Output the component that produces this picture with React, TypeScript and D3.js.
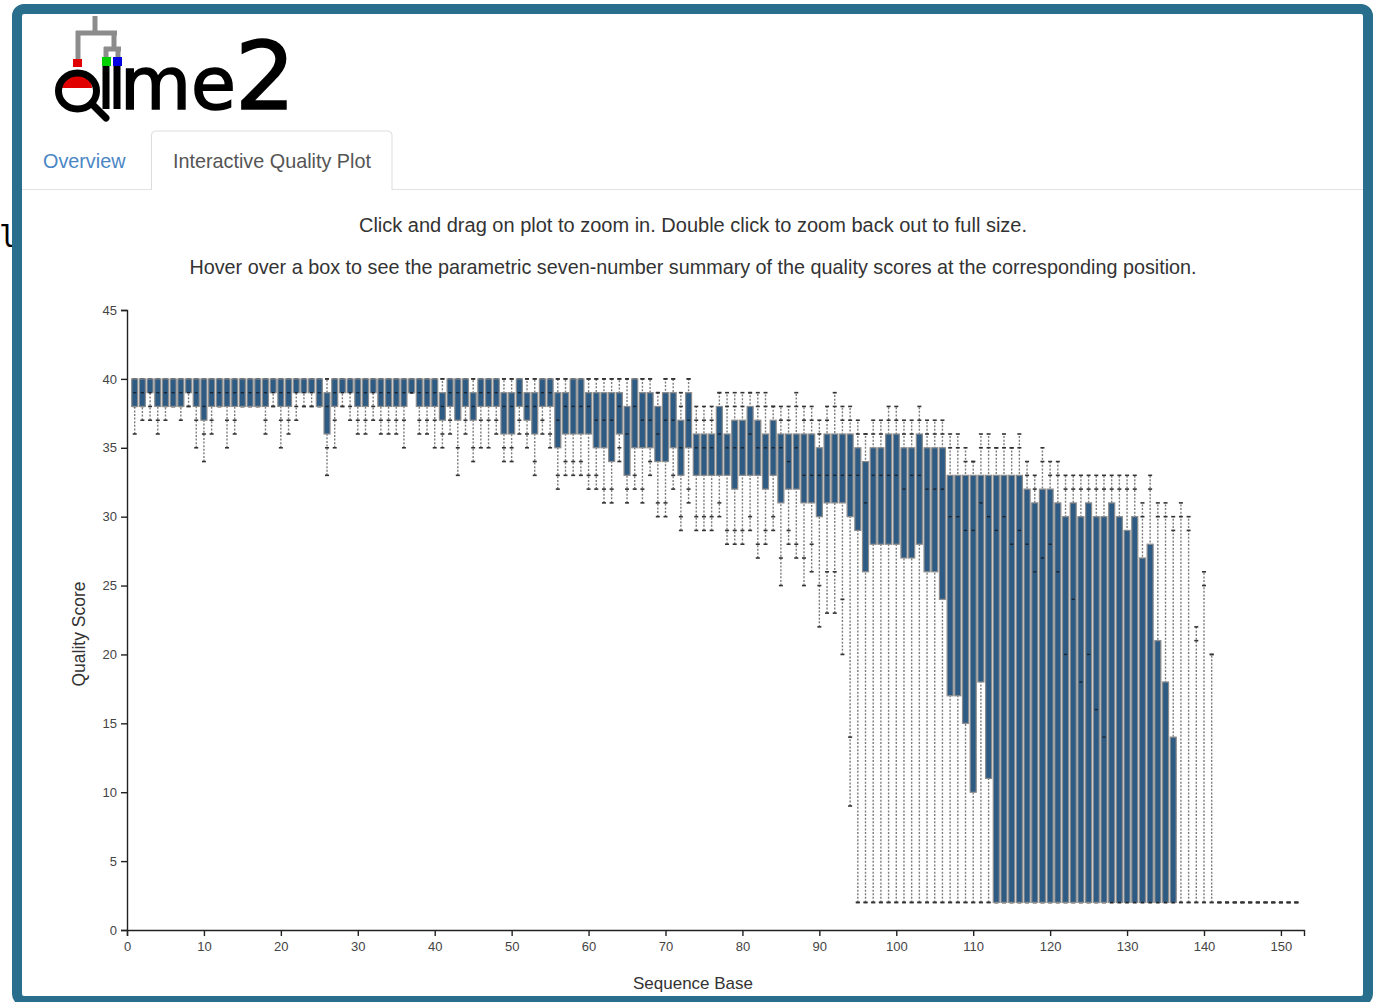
import { useEffect, useRef } from 'react';
import * as d3 from 'd3';

// seven-number summary per sequence position (positions 1..152)
const p98 = [
  40, 40, 40, 40, 40, 40, 40, 40, 40, 40,
  40, 40, 40, 40, 40, 40, 40, 40, 40, 40,
  40, 40, 40, 40, 40, 40, 40, 40, 40, 40,
  40, 40, 40, 40, 40, 40, 40, 40, 40, 40,
  40, 40, 40, 40, 40, 40, 40, 40, 40, 40,
  40, 40, 40, 40, 40, 40, 40, 40, 40, 40,
  40, 40, 40, 40, 40, 40, 40, 40, 39, 40,
  40, 39, 40, 38, 38, 38, 39, 39, 39, 39,
  39, 39, 39, 38, 38, 38, 39, 38, 38, 37,
  38, 39, 38, 38, 37, 36, 37, 37, 38, 38,
  37, 37, 38, 37, 37, 37, 36, 36, 35, 34,
  36, 36, 35, 36, 35, 36, 34, 33, 35, 34,
  34, 33, 33, 33, 33, 33, 33, 33, 33, 33,
  33, 31, 33, 31, 31, 30, 31, 30, 22, 26,
  20, 2, 2, 2, 2, 2, 2, 2, 2, 2,
  2, 2,
];
const p91 = [
  40, 40, 40, 40, 40, 40, 40, 40, 40, 40,
  40, 40, 40, 40, 40, 40, 40, 40, 40, 40,
  40, 40, 40, 40, 40, 40, 40, 40, 40, 40,
  40, 40, 40, 40, 40, 40, 40, 40, 40, 40,
  40, 40, 40, 40, 40, 40, 40, 40, 40, 40,
  40, 40, 40, 40, 40, 40, 40, 40, 40, 40,
  40, 40, 40, 40, 40, 40, 40, 40, 39, 40,
  40, 38, 40, 37, 37, 37, 39, 38, 38, 38,
  39, 38, 38, 38, 37, 37, 38, 37, 37, 36,
  37, 38, 37, 37, 36, 36, 36, 36, 37, 37,
  36, 36, 37, 36, 36, 36, 35, 35, 34, 34,
  35, 35, 35, 35, 35, 35, 33, 32, 34, 33,
  33, 32, 32, 32, 32, 32, 32, 32, 32, 32,
  32, 30, 32, 30, 30, 29, 30, 29, 21, 25,
  20, 2, 2, 2, 2, 2, 2, 2, 2, 2,
  2, 2,
];
const p75 = [
  40, 40, 40, 40, 40, 40, 40, 40, 40, 40,
  40, 40, 40, 40, 40, 40, 40, 40, 40, 40,
  40, 40, 40, 40, 40, 39, 40, 40, 40, 40,
  40, 40, 40, 40, 40, 40, 40, 40, 40, 40,
  39, 40, 40, 40, 39, 40, 40, 40, 39, 39,
  40, 39, 39, 40, 40, 39, 39, 40, 40, 39,
  39, 39, 39, 39, 38, 40, 39, 39, 38, 39,
  39, 37, 39, 36, 36, 36, 38, 36, 37, 37,
  38, 37, 36, 37, 36, 36, 36, 36, 36, 35,
  36, 36, 36, 36, 35, 34, 35, 35, 36, 36,
  35, 35, 36, 35, 35, 35, 33, 33, 33, 33,
  33, 33, 33, 33, 33, 33, 32, 31, 32, 32,
  31, 30, 31, 30, 31, 30, 30, 31, 30, 29,
  30, 27, 28, 21, 18, 14, 2, 2, 2, 2,
  2, 2, 2, 2, 2, 2, 2, 2, 2, 2,
  2, 2,
];
const p50 = [
  39, 39, 39, 39, 39, 39, 39, 39, 39, 38,
  39, 39, 39, 39, 39, 39, 39, 39, 39, 39,
  39, 39, 39, 39, 39, 38, 39, 39, 39, 39,
  39, 39, 39, 39, 39, 39, 39, 39, 39, 39,
  38, 39, 39, 39, 38, 39, 39, 39, 38, 38,
  39, 38, 38, 39, 39, 37, 38, 38, 38, 38,
  37, 37, 37, 38, 36, 38, 37, 37, 36, 37,
  37, 35, 37, 35, 35, 35, 36, 35, 35, 35,
  36, 35, 35, 35, 35, 34, 35, 33, 33, 33,
  33, 33, 33, 33, 33, 31, 33, 33, 33, 33,
  32, 33, 33, 32, 32, 32, 30, 30, 29, 29,
  31, 30, 29, 30, 28, 29, 28, 26, 27, 28,
  26, 20, 24, 18, 20, 16, 14, 2, 2, 2,
  2, 2, 2, 2, 2, 2, 2, 2, 2, 2,
  2, 2, 2, 2, 2, 2, 2, 2, 2, 2,
  2, 2,
];
const p25 = [
  38, 38, 39, 38, 38, 38, 38, 39, 38, 37,
  38, 38, 38, 38, 38, 38, 38, 38, 39, 38,
  38, 39, 39, 39, 38, 36, 38, 39, 39, 38,
  38, 39, 38, 38, 38, 38, 39, 38, 38, 38,
  37, 38, 37, 38, 37, 38, 38, 38, 36, 36,
  38, 37, 36, 38, 38, 35, 36, 36, 36, 36,
  35, 35, 34, 36, 33, 35, 35, 35, 34, 34,
  35, 33, 35, 33, 33, 33, 33, 33, 32, 33,
  33, 33, 32, 33, 31, 32, 32, 31, 31, 30,
  31, 31, 31, 30, 29, 26, 28, 28, 28, 28,
  27, 27, 28, 26, 26, 24, 17, 17, 15, 10,
  18, 11, 2, 2, 2, 2, 2, 2, 2, 2,
  2, 2, 2, 2, 2, 2, 2, 2, 2, 2,
  2, 2, 2, 2, 2, 2, 2, 2, 2, 2,
  2, 2, 2, 2, 2, 2, 2, 2, 2, 2,
  2, 2,
];
const p9 = [
  38, 38, 38, 37, 38, 38, 38, 38, 37, 36,
  37, 38, 37, 37, 38, 38, 38, 37, 38, 37,
  37, 38, 38, 38, 38, 35, 37, 38, 38, 37,
  37, 38, 37, 37, 37, 37, 39, 37, 37, 37,
  36, 37, 35, 37, 35, 37, 37, 37, 35, 35,
  37, 36, 34, 37, 36, 33, 34, 34, 34, 33,
  33, 32, 32, 35, 32, 33, 32, 34, 31, 31,
  33, 30, 32, 30, 30, 30, 31, 29, 29, 29,
  30, 28, 29, 30, 27, 29, 28, 27, 28, 25,
  26, 26, 24, 14, 2, 2, 2, 2, 2, 2,
  2, 2, 2, 2, 2, 2, 2, 2, 2, 2,
  2, 2, 2, 2, 2, 2, 2, 2, 2, 2,
  2, 2, 2, 2, 2, 2, 2, 2, 2, 2,
  2, 2, 2, 2, 2, 2, 2, 2, 2, 2,
  2, 2, 2, 2, 2, 2, 2, 2, 2, 2,
  2, 2,
];
const p2 = [
  36, 37, 37, 36, 37, 38, 37, 38, 35, 34,
  36, 38, 35, 36, 38, 38, 38, 36, 38, 35,
  36, 37, 38, 38, 38, 33, 35, 38, 37, 36,
  36, 37, 36, 36, 36, 35, 39, 36, 36, 35,
  35, 36, 33, 36, 34, 35, 35, 36, 34, 34,
  36, 35, 33, 36, 35, 32, 33, 33, 33, 32,
  32, 31, 31, 34, 31, 32, 31, 33, 30, 30,
  32, 29, 31, 29, 29, 29, 30, 28, 28, 28,
  29, 27, 28, 29, 25, 28, 27, 25, 26, 22,
  23, 23, 20, 9, 2, 2, 2, 2, 2, 2,
  2, 2, 2, 2, 2, 2, 2, 2, 2, 2,
  2, 2, 2, 2, 2, 2, 2, 2, 2, 2,
  2, 2, 2, 2, 2, 2, 2, 2, 2, 2,
  2, 2, 2, 2, 2, 2, 2, 2, 2, 2,
  2, 2, 2, 2, 2, 2, 2, 2, 2, 2,
  2, 2,
];

const yTicks = [0, 5, 10, 15, 20, 25, 30, 35, 40, 45];
const xTicks = [0, 10, 20, 30, 40, 50, 60, 70, 80, 90, 100, 110, 120, 130, 140, 150];

const FONT = '"Liberation Sans", Arial, Helvetica, sans-serif';
const TEAL = '#296e8d';

export default function App() {
  const chartRef = useRef<SVGGElement>(null);

  useEffect(() => {
    if (!chartRef.current) return;
    const g = d3.select(chartRef.current);
    g.selectAll('*').remove();

    const x = d3.scaleLinear().domain([0, 153]).range([127, 1304]);
    const y = d3.scaleLinear().domain([0, 45]).range([930, 310]);

    const rows = p75.map((_, i) => ({
      pos: i + 1,
      p2: p2[i], p9: p9[i], p25: p25[i], p50: p50[i],
      p75: p75[i], p91: p91[i], p98: p98[i],
    }));
    const step = x(1) - x(0);
    const boxW = step * 0.78;

    const cols = g.append('g').selectAll('g').data(rows).join('g');

    // whiskers (2nd to 98th percentile)
    cols.append('line')
      .attr('x1', d => x(d.pos)).attr('x2', d => x(d.pos))
      .attr('y1', d => y(d.p2)).attr('y2', d => y(d.p98))
      .attr('stroke', '#7d7d7d')
      .attr('stroke-width', 1.4)
      .attr('stroke-dasharray', '2,1.6');

    (['p2', 'p9', 'p91', 'p98'] as const).forEach(k => {
      cols.append('line')
        .attr('x1', d => x(d.pos) - 2).attr('x2', d => x(d.pos) + 2)
        .attr('y1', d => y(d[k])).attr('y2', d => y(d[k]))
        .attr('stroke', '#333')
        .attr('stroke-width', 1.6);
    });

    const boxed = cols.filter(d => d.p75 > d.p25);
    boxed.append('rect')
      .attr('x', d => x(d.pos) - boxW / 2)
      .attr('width', boxW)
      .attr('y', d => y(d.p75))
      .attr('height', d => y(d.p25) - y(d.p75))
      .attr('fill', '#2d5b84')
      .attr('stroke', '#8c8c8c')
      .attr('stroke-width', 1.2);

    boxed.append('line')
      .attr('x1', d => x(d.pos) - 1.6).attr('x2', d => x(d.pos) + 1.6)
      .attr('y1', d => y(d.p50)).attr('y2', d => y(d.p50))
      .attr('stroke', '#1a2430')
      .attr('stroke-width', 1.4);

    const gy = g.append('g')
      .attr('transform', 'translate(127,0)')
      .call(d3.axisLeft(y).tickValues(yTicks).tickSize(6).tickPadding(4));
    const gx = g.append('g')
      .attr('transform', 'translate(0,930)')
      .call(d3.axisBottom(x).tickValues(xTicks).tickSize(6).tickPadding(6));

    [gx, gy].forEach(ax => {
      ax.attr('font-family', FONT).attr('font-size', 13);
      ax.selectAll('path, line').attr('stroke', '#222').attr('stroke-width', 1.4);
      ax.selectAll('text').attr('fill', '#444');
    });

    g.append('text')
      .attr('transform', 'translate(85,634) rotate(-90)')
      .attr('text-anchor', 'middle')
      .attr('font-family', FONT)
      .attr('font-size', 17.5)
      .attr('fill', '#333')
      .text('Quality Score');

    g.append('text')
      .attr('x', 693)
      .attr('y', 989)
      .attr('text-anchor', 'middle')
      .attr('font-family', FONT)
      .attr('font-size', 17)
      .attr('fill', '#333')
      .text('Sequence Base');
  }, []);

  return (
    <div style={{ position: 'absolute', left: 0, top: 0 }}>
      <svg width={1381} height={1002} style={{ display: 'block', background: '#fff' }}>
        <text x={-1} y={247} fontFamily='"DejaVu Sans Mono", monospace' fontSize={30} fill="#000">l</text>
        <rect x={17} y={9} width={1351} height={992} rx={7} fill="#fff" stroke={TEAL} strokeWidth={10} />

        {/* logo */}
        <g>
          <g stroke="#8c8c8c" strokeWidth={5} fill="none">
            <line x1={95} y1={16} x2={95} y2={33} />
            <line x1={76} y1={33} x2={117} y2={33} />
            <line x1={78} y1={31} x2={78} y2={62} />
            <line x1={114} y1={31} x2={114} y2={50} />
            <line x1={104} y1={49} x2={121} y2={49} />
            <line x1={106} y1={47} x2={106} y2={60} />
            <line x1={118} y1={47} x2={118} y2={60} />
          </g>
          <rect x={73} y={59} width={9} height={8} fill="#e00000" />
          <rect x={102} y={57} width={9} height={9} fill="#00d000" />
          <rect x={113} y={57} width={9} height={9} fill="#0000e0" />
          <path d="M62,88 A15,15 0 0 1 92,88 Z" fill="#e00000" />
          <ellipse cx={77.5} cy={91} rx={19} ry={18} fill="none" stroke="#000" strokeWidth={7} />
          <line x1={92} y1={104} x2={106} y2={118} stroke="#000" strokeWidth={7} strokeLinecap="round" />
          <rect x={102.5} y={66} width={7} height={43} fill="#000" />
          <rect x={113.5} y={66} width={7} height={43} fill="#000" />
          <text x={120} y={109} fontFamily='"DejaVu Sans", sans-serif' fontSize={73} fill="#000" stroke="#000" strokeWidth={1.6}>me</text>
          <text x={235} y={109} fontFamily='"DejaVu Sans", sans-serif' fontSize={95} fill="#000" stroke="#000" strokeWidth={1.6}>2</text>
        </g>

        {/* tabs */}
        <line x1={22} y1={189.5} x2={1363} y2={189.5} stroke="#e3e3e3" strokeWidth={1} />
        <path d="M151.5,190 V135 Q151.5,131 155.5,131 H388 Q392,131 392,135 V190" fill="#fff" stroke="#dddddd" strokeWidth={1} />
        <text x={43} y={168} fontFamily={FONT} fontSize={19.8} fill="#4a86c5">Overview</text>
        <text x={173} y={168} fontFamily={FONT} fontSize={19.8} fill="#555">Interactive Quality Plot</text>

        {/* instructions */}
        <text x={693} y={232} textAnchor="middle" fontFamily={FONT} fontSize={20} fill="#333">
          Click and drag on plot to zoom in. Double click to zoom back out to full size.
        </text>
        <text x={693} y={274} textAnchor="middle" fontFamily={FONT} fontSize={19.8} fill="#333">
          Hover over a box to see the parametric seven-number summary of the quality scores at the corresponding position.
        </text>

        <g ref={chartRef} />
      </svg>
    </div>
  );
}
